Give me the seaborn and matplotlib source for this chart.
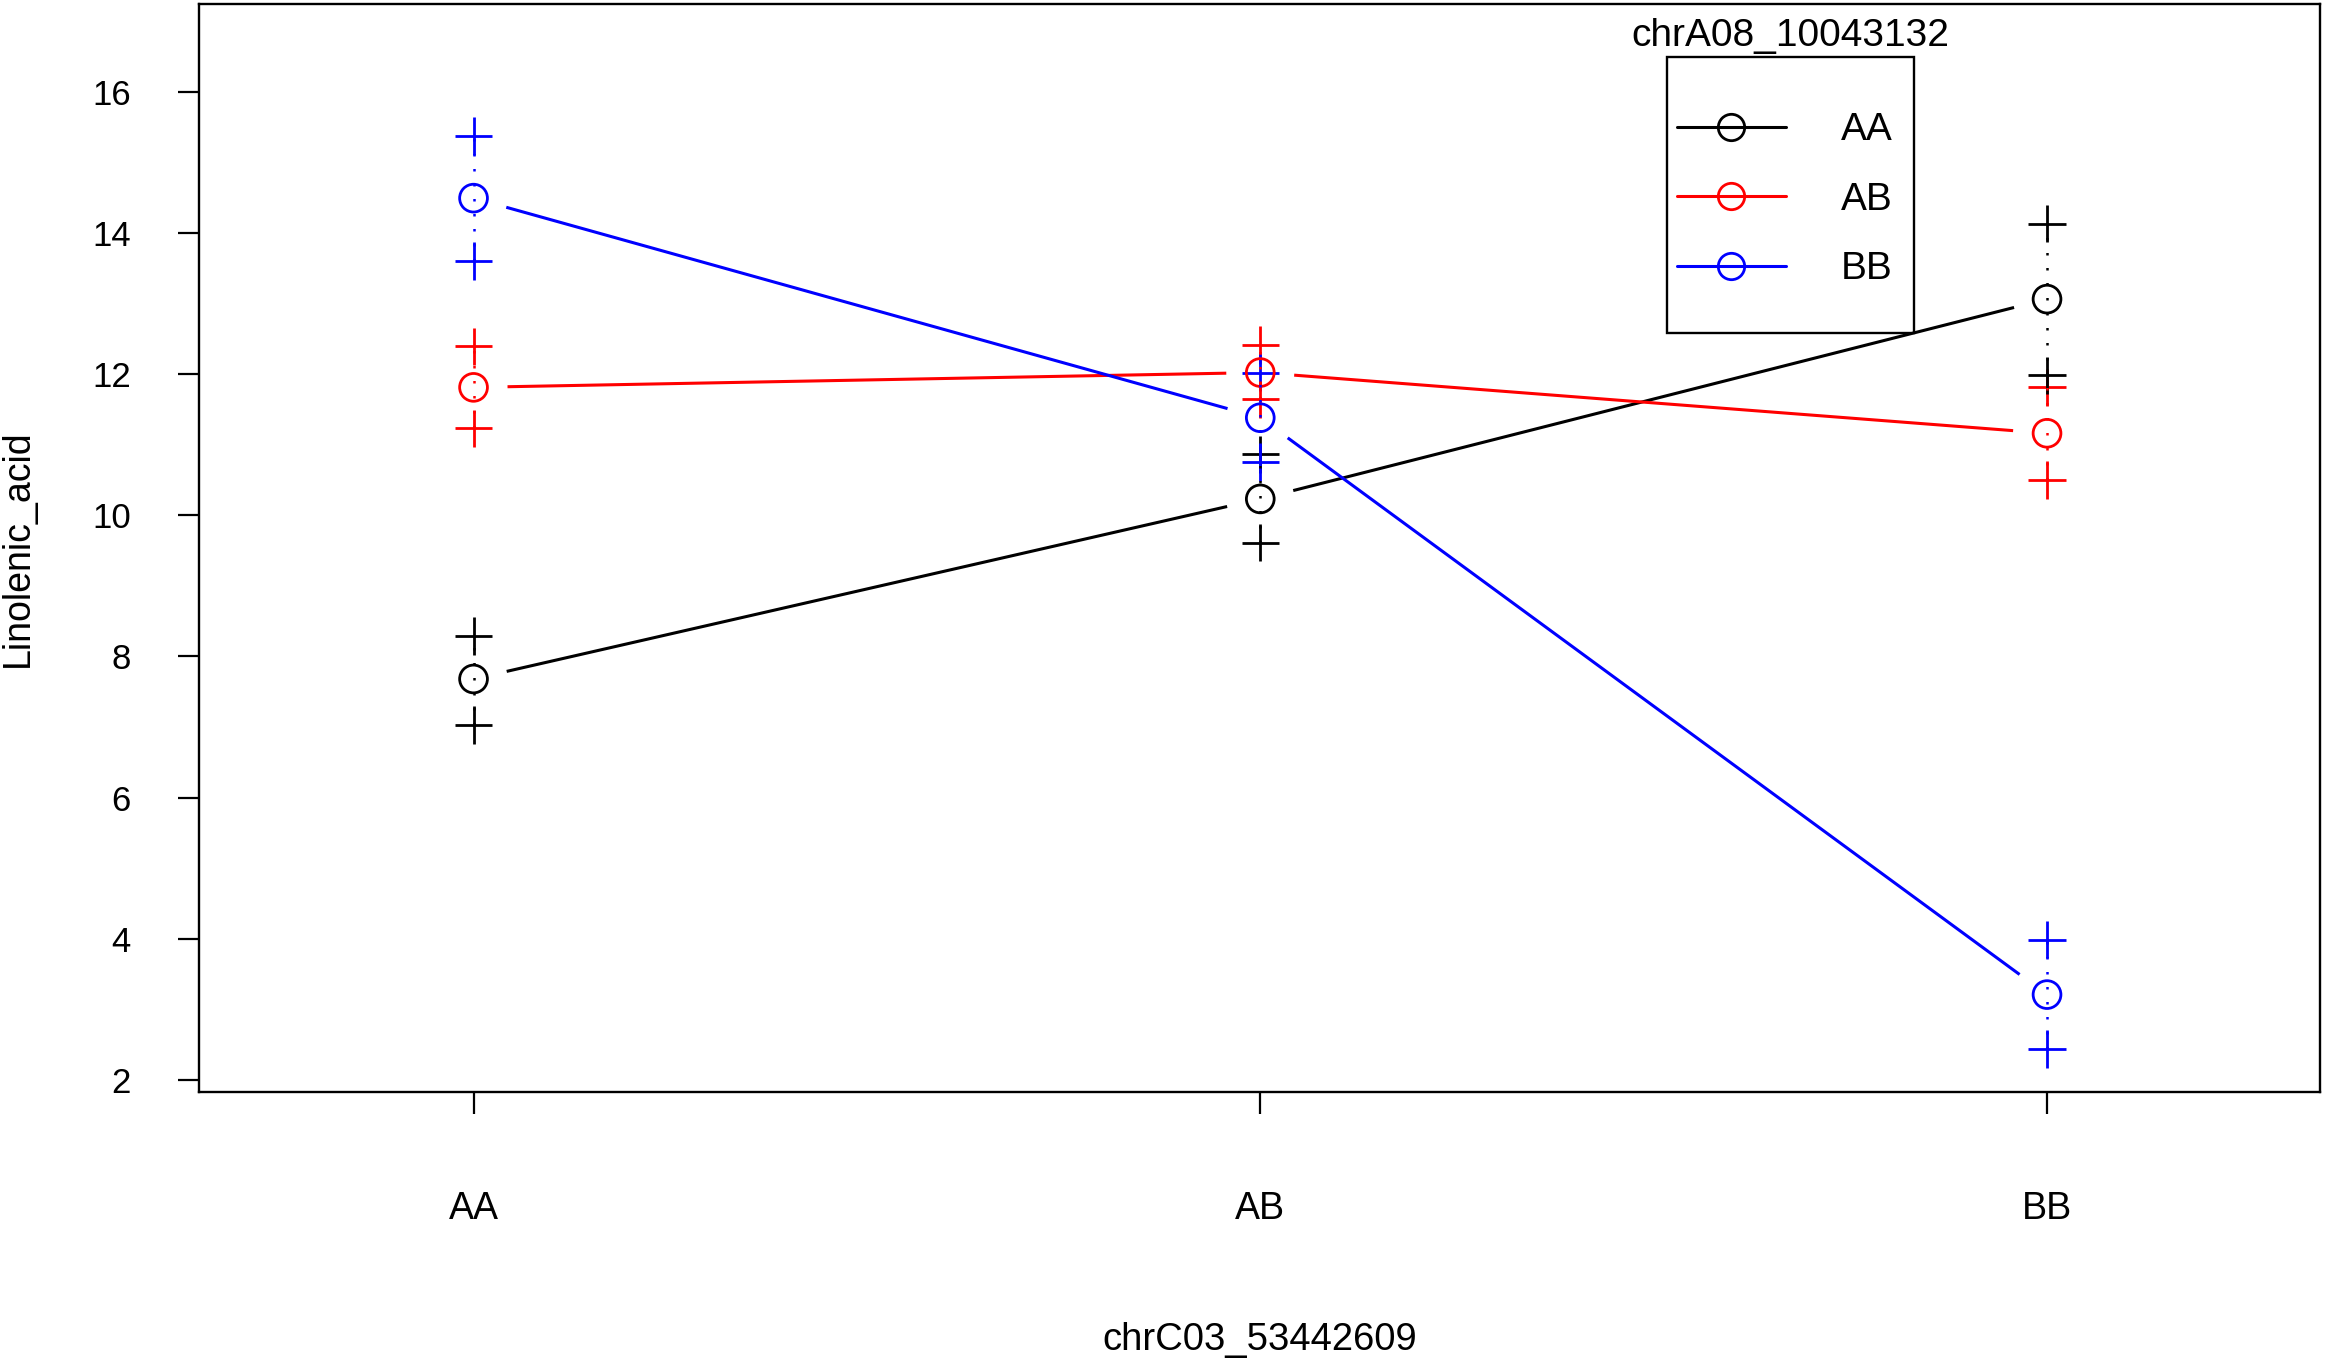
import numpy as np
import pandas as pd
import matplotlib
matplotlib.use("Agg")
from matplotlib import pyplot as plt
from matplotlib.lines import Line2D
from matplotlib.patches import Rectangle
import seaborn as sns

# x axis levels (chrC03_53442609) and trace levels (chrA08_10043132)
genotypes = ["AA", "AB", "BB"]
groups = ["AA", "AB", "BB"]
colors = ["black", "red", "blue"]

# group means (circles) and the +/- marks
mean_AA = [7.68, 10.23, 13.06]
mean_AB = [11.81, 12.02, 11.16]
mean_BB = [14.49, 11.38, 3.21]
upper_AA = [8.29, 10.86, 14.13]
lower_AA = [7.03, 9.61, 11.98]
upper_AB = [12.39, 12.41, 11.81]
lower_AB = [11.23, 11.64, 10.50]
upper_BB = [15.37, 12.02, 3.99]
lower_BB = [13.60, 10.75, 2.44]

means = {"AA": mean_AA, "AB": mean_AB, "BB": mean_BB}
uppers = {"AA": upper_AA, "AB": upper_AB, "BB": upper_BB}
lowers = {"AA": lower_AA, "AB": lower_AB, "BB": lower_BB}

rows = []
for g in groups:
    for i, geno in enumerate(genotypes):
        rows.append({"group": g, "x": i, "mean": means[g][i],
                     "upper": uppers[g][i], "lower": lowers[g][i]})
df = pd.DataFrame(rows)
bars = pd.concat([
    df[["group", "x", "upper"]].rename(columns={"upper": "y"}),
    df[["group", "x", "lower"]].rename(columns={"lower": "y"}),
])

sns.set_style("ticks")
plt.rcParams["font.family"] = ["Liberation Sans", "DejaVu Sans"]
for key in ["text.color", "axes.labelcolor", "xtick.color", "ytick.color",
            "axes.edgecolor"]:
    plt.rcParams[key] = "black"

palette = dict(zip(groups, colors))

fig = plt.figure(figsize=(23.27, 13.63), dpi=100)
ax = fig.add_axes([0.0855, 0.1988, 0.997 - 0.0855, 0.9974 - 0.1988])
ax.set_xlim(-0.349, 2.347)
ax.set_ylim(1.83, 17.246)

# dotted range lines between the + marks
for g, c in zip(groups, colors):
    sub = df[df.group == g]
    ax.vlines(sub.x, sub.lower, sub.upper, colors=c, lw=1.8,
              linestyles=(0, (1, 5)))

# connecting lines with gaps around the circles (like R type="b")
trans = ax.transData
inv = trans.inverted()
gap = 34
for g, c in zip(groups, colors):
    sub = df[df.group == g]
    pts = trans.transform(np.column_stack([sub.x, sub["mean"]]))
    for p0, p1 in zip(pts[:-1], pts[1:]):
        d = (p1 - p0) / np.hypot(*(p1 - p0))
        a, b = inv.transform(np.array([p0 + gap * d, p1 - gap * d]))
        ax.plot([a[0], b[0]], [a[1], b[1]], color=c, lw=2.2,
                solid_capstyle="butt")

# + marks
sns.scatterplot(data=bars, x="x", y="y", hue="group", palette=palette,
                marker="+", s=729, linewidth=2.0, legend=False, ax=ax)

# hollow circles for the means
sns.scatterplot(data=df, x="x", y="mean", hue="group", palette=palette,
                marker="o", s=400, linewidth=2.0, legend=False, ax=ax)
circles = ax.collections[-1]
circles.set_edgecolor(circles.get_facecolor())
circles.set_facecolor("none")

ax.set_xticks(range(len(genotypes)))
ax.set_xticklabels(genotypes)
ax.set_yticks(np.arange(2, 17, 2))
ax.tick_params(axis="y", length=15, width=1.6, pad=34, labelsize=25,
               colors="black")
ax.tick_params(axis="x", length=16, width=1.6, pad=55, labelsize=27,
               colors="black")
for sp in ax.spines.values():
    sp.set_visible(True)
    sp.set_linewidth(1.7)
    sp.set_color("black")

ax.set_xlabel("chrC03_53442609", fontsize=27.5, color="black")
ax.xaxis.set_label_coords(0.5, -0.2275)
ax.xaxis.label.set_va("center")
ax.set_ylabel("Linolenic_acid", fontsize=27, color="black")
ax.yaxis.set_label_coords(-0.0853, 0.5)
ax.yaxis.label.set_va("center")

# legend: frame drawn separately, title sits above it
ax.add_patch(Rectangle((0.6921, 0.6977), 0.1167, 0.2528, transform=ax.transAxes,
                       fill=False, lw=1.7, ec="black", zorder=5))
ax.text(0.7501, 0.9706, "chrA08_10043132", transform=ax.transAxes,
        ha="center", va="center", fontsize=28, color="black")
handles = [Line2D([0], [0], color=c, lw=2.2, marker="o", markersize=19,
                  markerfacecolor="none", markeredgewidth=2.0) for c in colors]
leg = ax.legend(handles, groups, loc="center", bbox_to_anchor=(0.7475, 0.8198),
                frameon=False, fontsize=28, handlelength=2.8,
                handletextpad=1.41, labelspacing=0.86, borderpad=0)
for t in leg.get_texts():
    t.set_color("black")

fig.savefig("out.png", dpi=100)
